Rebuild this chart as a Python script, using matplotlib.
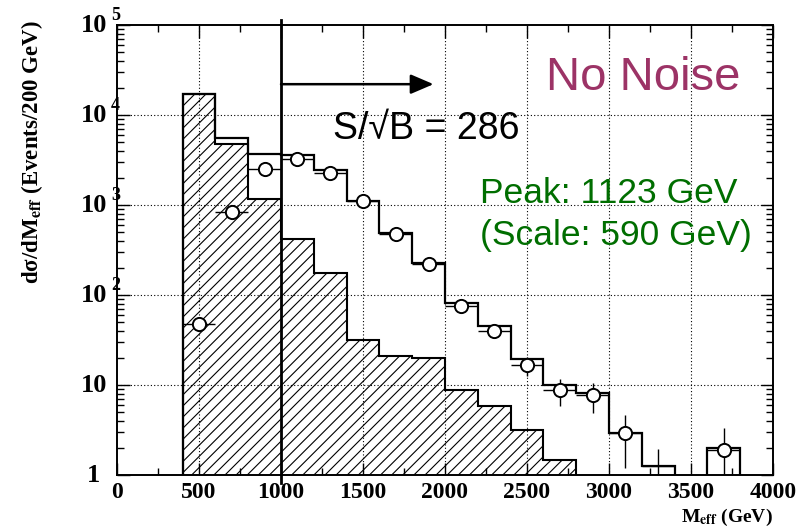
import numpy as np
import matplotlib
matplotlib.use("Agg")
import matplotlib.pyplot as plt
from matplotlib.ticker import MultipleLocator, LogLocator, NullFormatter

plt.rcParams['mathtext.fontset'] = 'stix'
plt.rcParams['hatch.linewidth'] = 0.8

# bin edges (GeV) and histogram contents
edges = np.arange(400, 3801, 200)
background = [17000, 4750, 1170, 420, 175, 31.6, 21, 20, 8.8, 5.8, 3.2, 1.47,
              0, 0, 0, 0, 0]
total = [17000, 5500, 3700, 3600, 2450, 1100, 490, 228, 81, 45, 19.5, 10,
         8.2, 2.9, 1.26, 0, 2.0]

# data points
pts_x = [500, 700, 900, 1100, 1300, 1500, 1700, 1900, 2100, 2300, 2500, 2700,
         2900, 3100, 3300, 3700]
pts_y = [48, 830, 2500, 3240, 2280, 1100, 475, 220, 76, 40, 16.6, 8.8,
         7.7, 2.9, 1.25, 1.9]
pts_err = [7, 29, 50, 57, 48, 33, 22, 15, 8.7, 6.3, 4.1, 3.0, 2.8, 1.7, 0.7, 1.4]
pts_marker = [True] * 14 + [False, True]

y_decades = [1, 10, 100, 1e3, 1e4, 1e5]
y_exponents = ["", "", "2", "3", "4", "5"]
y_bases = ["1", "10", "10", "10", "10", "10"]

floor = 0.1  # empty bins drawn below the axis

fig = plt.figure(figsize=(8.11, 5.29), dpi=100)
ax = fig.add_axes([117 / 811, 1 - 475 / 529, 656 / 811, 450 / 529])

bkg = np.maximum(np.array(background, dtype=float), floor)
tot = np.maximum(np.array(total, dtype=float), floor)

ax.stairs(bkg, edges, baseline=floor, fill=True, facecolor='none',
          edgecolor='black', hatch='///', linewidth=1.5, zorder=2)
ax.stairs(tot, edges, baseline=floor, fill=False, edgecolor='black',
          linewidth=1.6, zorder=3)

ax.errorbar(pts_x, pts_y, xerr=100, yerr=pts_err, fmt='none', ecolor='black',
            elinewidth=1.0, capsize=0, zorder=4)
mx = [x for x, m in zip(pts_x, pts_marker) if m]
my = [y for y, m in zip(pts_y, pts_marker) if m]
ax.plot(mx, my, 'o', markersize=9.5, markerfacecolor='white',
        markeredgecolor='black', markeredgewidth=1.4, zorder=5)

ax.set_yscale('log')
ax.set_xlim(0, 4000)
ax.set_ylim(1, 1e5)

ax.xaxis.set_major_locator(MultipleLocator(500))
ax.xaxis.set_minor_locator(MultipleLocator(250))
ax.yaxis.set_major_locator(LogLocator(base=10))
ax.yaxis.set_minor_locator(LogLocator(base=10, subs=np.arange(2, 10)))
ax.yaxis.set_major_formatter(NullFormatter())
ax.yaxis.set_minor_formatter(NullFormatter())

ax.tick_params(which='both', direction='in', top=True, right=True)
ax.tick_params(which='major', length=9, width=1.0, pad=5)
ax.tick_params(which='minor', length=5, width=1.0)
for lab in ax.get_xticklabels():
    lab.set_fontfamily('Liberation Serif')
    lab.set_fontweight('bold')
    lab.set_fontsize(17)
for sp in ax.spines.values():
    sp.set_linewidth(1.4)

# dotted grid on major ticks inside the frame
for gx in range(500, 4000, 500):
    ax.axvline(gx, color='black', linestyle=(0, (1, 2)), linewidth=0.8, zorder=1)
for gy in y_decades[1:-1]:
    ax.axhline(gy, color='black', linestyle=(0, (1, 2)), linewidth=0.8, zorder=1)

# y tick labels drawn by hand (10 with raised exponent)
for val, base, ex in zip(y_decades, y_bases, y_exponents):
    ax.annotate(base, xy=(0, val), xycoords=('axes fraction', 'data'),
                xytext=(-23, 0), textcoords='offset pixels', ha='center',
                va='center', fontsize=19, fontweight='bold',
                family='Liberation Serif', annotation_clip=False)
    if ex:
        ax.annotate(ex, xy=(0, val), xycoords=('axes fraction', 'data'),
                    xytext=(-6, 9), textcoords='offset pixels', ha='left',
                    va='center', fontsize=13, fontweight='bold',
                    family='Liberation Serif', annotation_clip=False)

fig.text(32 / 811, 1 - 20 / 529, r"dσ/dM$_{\mathbf{eff}}$ (Events/200 GeV)",
         rotation=90, ha='center', va='top', fontsize=16.5, fontweight='bold',
         family='Liberation Serif')
fig.text(773 / 811, 1 - 522 / 529, r"M$_{\mathbf{eff}}$ (GeV)", ha='right',
         va='baseline', fontsize=14, fontweight='bold', family='Liberation Serif')

# cut line and arrow
ax.plot([1000, 1000], [0.815, 1.135e5], color='black', linewidth=2.0,
        clip_on=False, zorder=6)
ax.annotate('', xy=(1930, 22000), xytext=(1000, 22000),
            arrowprops=dict(arrowstyle='-|>,head_length=1.4,head_width=0.6',
                            color='black', lw=1.8, shrinkA=0, shrinkB=0))

fig.text(546 / 811, 1 - 90 / 529, "No Noise", color='#9c3366', fontsize=34,
         family='Liberation Sans', va='baseline')
fig.text(333 / 811, 1 - 139 / 529, "S/√B = 286", color='black', fontsize=27,
         family='Liberation Sans', va='baseline')
fig.text(480 / 811, 1 - 203 / 529, "Peak: 1123 GeV", color='#006e00',
         fontsize=25.5, family='Liberation Sans', va='baseline')
fig.text(480 / 811, 1 - 245 / 529, "(Scale: 590 GeV)", color='#006e00',
         fontsize=25.5, family='Liberation Sans', va='baseline')

fig.savefig('out.png', dpi=100)
